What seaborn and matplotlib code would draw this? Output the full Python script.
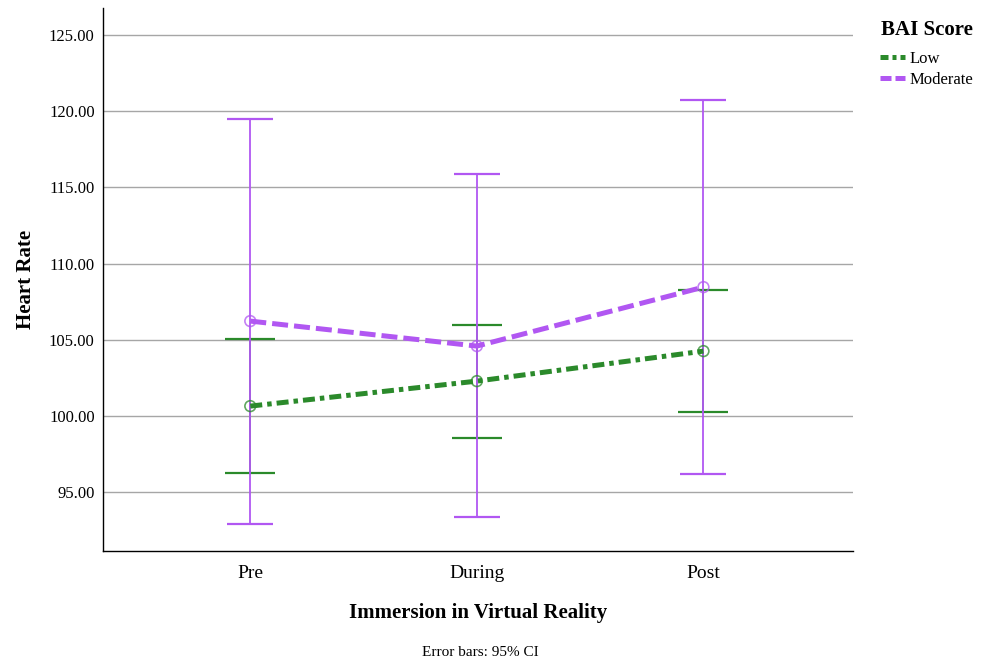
import matplotlib
matplotlib.use("Agg")
import matplotlib.pyplot as plt
import seaborn as sns
import pandas as pd
from matplotlib.lines import Line2D

phases = ["Pre", "During", "Post"]
low_mean = [100.64, 102.28, 104.25]
low_lo = [96.24, 98.54, 100.25]
low_hi = [105.02, 105.96, 108.26]
mod_mean = [106.22, 104.58, 108.45]
mod_lo = [92.89, 93.35, 96.17]
mod_hi = [119.48, 115.87, 120.73]
groups = ["Low", "Moderate"]

sns.set_style("white")
plt.rcParams['font.family'] = ['Liberation Serif', 'DejaVu Serif']
plt.rcParams['text.color'] = 'black'
plt.rcParams['axes.labelcolor'] = 'black'
plt.rcParams['xtick.color'] = 'black'
plt.rcParams['ytick.color'] = 'black'

green = "#2b8a2b"
purple = "#b157f2"
ls_low = (0, (2.4, 1.0, 0.9, 1.0))
ls_mod = (0, (3.2, 1.2))

df = pd.DataFrame({
    "phase": phases * 2,
    "x": [0, 1, 2] * 2,
    "mean": low_mean + mod_mean,
    "lo": low_lo + mod_lo,
    "hi": low_hi + mod_hi,
    "group": ["Low"] * 3 + ["Moderate"] * 3,
})

fig = plt.figure(figsize=(9.81, 6.64), dpi=100)
ax = fig.add_axes([103/981, 1-551/664, 750/981, 543/664])

# error bars
for g, col, lw, cap in [("Low", green, 1.2, 18), ("Moderate", purple, 1.3, 16.5)]:
    d = df[df.group == g]
    yerr = [d["mean"] - d["lo"], d["hi"] - d["mean"]]
    ax.errorbar(d["x"], d["mean"], yerr=yerr, fmt="none", ecolor=col,
                elinewidth=lw, capsize=cap, capthick=1.6, zorder=2)

sns.lineplot(data=df[df.group == "Low"], x="x", y="mean", ax=ax, color=green,
             lw=3.6, linestyle=ls_low, zorder=3, legend=False)
sns.lineplot(data=df[df.group == "Moderate"], x="x", y="mean", ax=ax, color=purple,
             lw=3.6, linestyle=ls_mod, zorder=3, legend=False)
sns.scatterplot(data=df, x="x", y="mean", hue="group", palette=[green, purple],
                ax=ax, s=60, facecolor="none", linewidth=1.2, zorder=4, legend=False,
                marker="o")
for c in ax.collections:
    if hasattr(c, "get_offsets") and len(c.get_offsets()) == 6:
        ec = c.get_facecolors()
        c.set_edgecolors([(*e[:3], 0.75) for e in ec])
        c.set_facecolors("none")

ax.set_xlim(-0.65, 2.66)
ax.set_ylim(91.13, 126.77)
ax.set_xticks([0, 1, 2])
ax.set_xticklabels(phases, fontsize=14)
ax.set_yticks([95, 100, 105, 110, 115, 120, 125])
ax.set_yticklabels([f"{v:.2f}" for v in [95, 100, 105, 110, 115, 120, 125]], fontsize=12)
ax.tick_params(axis="x", length=0, pad=10)
ax.tick_params(axis="y", length=0, pad=6)
ax.yaxis.grid(True, color="#a6a6a6", lw=1.0)
ax.set_axisbelow(True)
for s in ["top", "right"]:
    ax.spines[s].set_visible(False)
for s in ["left", "bottom"]:
    ax.spines[s].set_color("black")
    ax.spines[s].set_linewidth(1.0)

ax.set_xlabel("Immersion in Virtual Reality", fontsize=15, fontweight="bold", labelpad=15)
ax.set_ylabel("Heart Rate", fontsize=15, fontweight="bold", labelpad=9)

handles = [Line2D([], [], color=green, lw=3.6, linestyle=(0, (1.6, 0.8, 0.8, 0.8))),
           Line2D([], [], color=purple, lw=3.6, linestyle=(0, (2.2, 0.8)))]
leg = fig.legend(handles, groups, title="BAI Score", loc="upper left",
                 bbox_to_anchor=(865/981, 1-5/664), frameon=False, fontsize=12,
                 title_fontproperties={"weight": "bold", "size": 15},
                 handlelength=1.5, handletextpad=0.25, labelspacing=0.3)
leg._legend_box.sep = 8

fig.text(480/981, 1-653/664, "Error bars: 95% CI", ha="center", va="center", fontsize=11)

fig.savefig("out.png", dpi=100)
